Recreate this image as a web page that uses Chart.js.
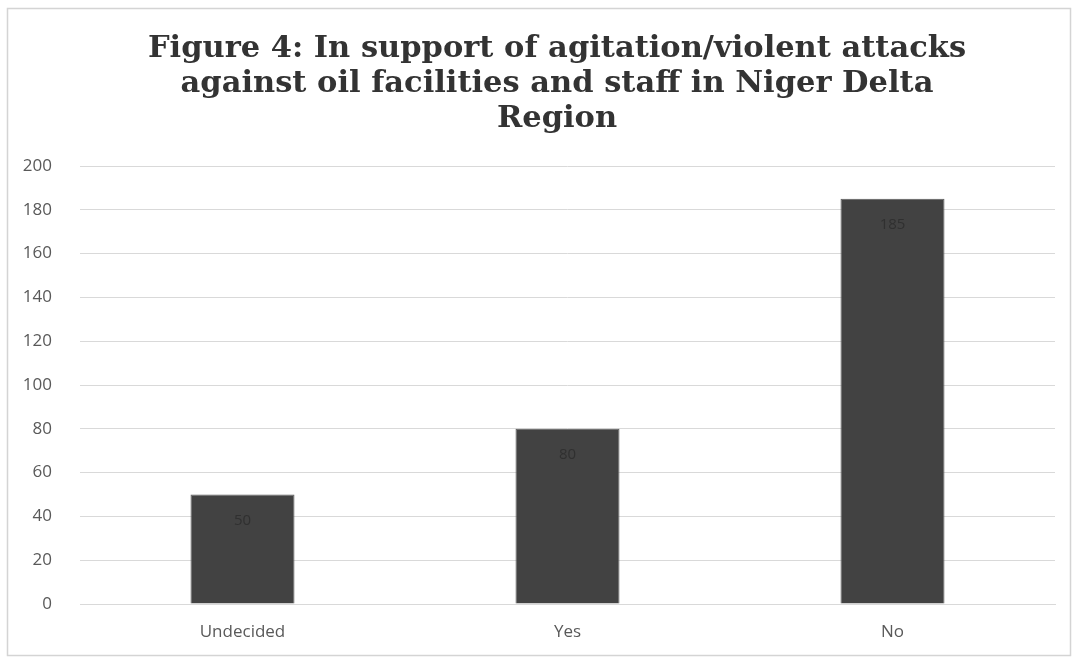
<!DOCTYPE html>
<html>
<head>
<meta charset="utf-8">
<script src="https://cdn.jsdelivr.net/npm/chart.js@4.4.1/dist/chart.umd.min.js"></script>
<style>
  html, body { margin: 0; padding: 0; background: #ffffff; }
  #wrap { position: relative; width: 1077px; height: 665px; }
  canvas { display: block; }
</style>
</head>
<body>
<div id="wrap"><canvas id="chart" width="1077" height="665"></canvas></div>
<script>
// Survey responses: support for agitation / violent attacks
const categories = ['Undecided', 'Yes', 'No'];
const responses = [50, 80, 185];
const titleLines = [
  'Figure 4: In support of agitation/violent attacks',
  'against oil facilities and staff in Niger Delta',
  'Region'
];
const yTicks = [0, 20, 40, 60, 80, 100, 120, 140, 160, 180, 200];

// Outer frame and the three-line heading
const framePlugin = {
  id: 'frame',
  beforeDraw(chart) {
    const ctx = chart.ctx;
    ctx.save();
    ctx.fillStyle = '#ffffff';
    ctx.fillRect(0, 0, chart.width, chart.height);
    ctx.strokeStyle = '#d4d4d4';
    ctx.lineWidth = 1.5;
    ctx.strokeRect(7.5, 8.5, chart.width - 14, chart.height - 18);
    ctx.restore();
  },
  afterDraw(chart) {
    const ctx = chart.ctx;
    ctx.save();
    ctx.fillStyle = '#333333';
    ctx.font = 'bold 30.5px "DejaVu Serif", serif';
    ctx.textAlign = 'center';
    ctx.textBaseline = 'alphabetic';
    const cx = 557;
    const baselines = [57, 92, 127];
    titleLines.forEach((t, i) => ctx.fillText(t, cx, baselines[i]));
    ctx.restore();
  }
};

// Value printed near the top of each bar (dark on dark, as in the print)
const valueLabels = {
  id: 'valueLabels',
  afterDatasetsDraw(chart) {
    const ctx = chart.ctx;
    const meta = chart.getDatasetMeta(0);
    ctx.save();
    ctx.fillStyle = '#303030';
    ctx.font = '15px "Open Sans", sans-serif';
    ctx.textAlign = 'center';
    ctx.textBaseline = 'middle';
    meta.data.forEach((bar, i) => {
      ctx.fillText(String(responses[i]), bar.x, bar.y + 26);
    });
    ctx.restore();
  }
};

new Chart(document.getElementById('chart'), {
  type: 'bar',
  data: {
    labels: categories,
    datasets: [{
      data: responses,
      backgroundColor: '#424242',
      borderColor: '#5a5a5a',
      borderWidth: 1,
      categoryPercentage: 1,
      barPercentage: 0.32
    }]
  },
  options: {
    responsive: false,
    animation: false,
    layout: { padding: { left: 10, right: 22, top: 166, bottom: 14 } },
    plugins: {
      legend: { display: false },
      title: { display: false },
      tooltip: { enabled: false }
    },
    scales: {
      x: {
        grid: { display: false, drawTicks: false },
        border: { color: '#d9d9d9', width: 1 },
        ticks: {
          color: '#595959',
          font: { family: 'Open Sans', size: 17 },
          padding: 18
        },
        afterFit(scale) { scale.height = 47; }
      },
      y: {
        min: 0,
        max: 200,
        afterBuildTicks(scale) { scale.ticks = yTicks.map(v => ({ value: v })); },
        grid: { color: '#d9d9d9', drawTicks: false },
        border: { display: false },
        ticks: {
          color: '#595959',
          font: { family: 'Open Sans', size: 17 },
          padding: 28
        },
        afterFit(scale) { scale.width = 70; }
      }
    }
  },
  plugins: [framePlugin, valueLabels]
});
</script>
</body>
</html>
